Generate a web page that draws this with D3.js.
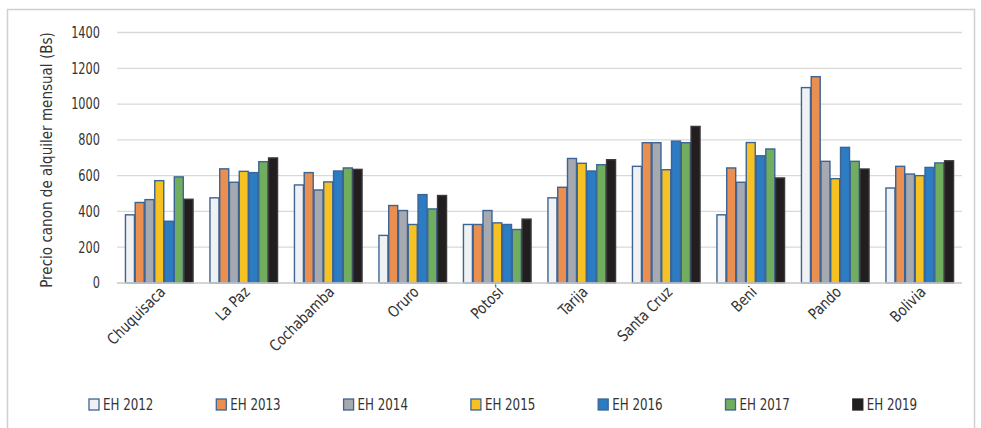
<!DOCTYPE html>
<meta charset="utf-8">
<script src="https://cdn.jsdelivr.net/npm/d3@7"></script>
<style type="text/css">
    body { margin: 0; background: #fff; }
    text { font-family: "DejaVu Sans Condensed", "DejaVu Sans", sans-serif; font-stretch: condensed; fill: #222; }
    .grid line { stroke: #d9d9d9; stroke-width: 1.3; }
    .axis path, .axis line { stroke: none; }
</style>
<body>
<script>
    var regions = ["Chuquisaca", "La Paz", "Cochabamba", "Oruro", "Potosí",
        "Tarija", "Santa Cruz", "Beni", "Pando", "Bolivia"];
    var years = ["EH 2012", "EH 2013", "EH 2014", "EH 2015", "EH 2016", "EH 2017", "EH 2019"];
    var eh2012 = [381, 476, 548, 266, 327, 476, 652, 381, 1092, 531];
    var eh2013 = [450, 638, 617, 433, 327, 535, 784, 643, 1153, 652];
    var eh2014 = [466, 563, 520, 405, 405, 696, 784, 563, 680, 609];
    var eh2015 = [572, 624, 565, 327, 336, 669, 633, 785, 583, 600];
    var eh2016 = [345, 617, 626, 494, 327, 626, 793, 711, 758, 646];
    var eh2017 = [593, 678, 643, 414, 299, 661, 784, 749, 680, 671];
    var eh2019 = [468, 699, 635, 489, 357, 689, 875, 587, 637, 683];
    var yTicks = [0, 200, 400, 600, 800, 1000, 1200, 1400];
    var colors = ["#f0f1f3", "#ea8f50", "#a6a9b0", "#f6c223", "#2c7cc3", "#71ad5f", "#221e1f"];

    var series = [eh2012, eh2013, eh2014, eh2015, eh2016, eh2017, eh2019];

    var width = 981, height = 428;
    var plot = {left: 117, right: 962, top: 32.5, bottom: 283};

    var svg = d3.select("body").append("svg")
        .attr("width", width)
        .attr("height", height);

    // chart frame
    svg.append("rect")
        .attr("x", 7.5).attr("y", 9.5)
        .attr("width", 967).attr("height", 430)
        .style("fill", "none").style("stroke", "#d0d0d0").style("stroke-width", 1.5);

    var x0 = d3.scaleBand().domain(regions).range([plot.left, plot.right])
        .paddingInner(0.2).paddingOuter(0.1);
    var x1 = d3.scaleBand().domain(years).range([0, x0.bandwidth()]).paddingInner(0.08);
    var y = d3.scaleLinear().domain([0, 1400]).range([plot.bottom, plot.top]);

    // gridlines
    svg.append("g")
        .attr("class", "grid")
        .selectAll("line")
        .data(yTicks)
        .enter()
        .append("line")
        .attr("x1", plot.left).attr("x2", plot.right)
        .attr("y1", function(d){ return y(d); })
        .attr("y2", function(d){ return y(d); });

    // y axis (text squeezed a bit to look condensed)
    var yAxis = svg.append("g")
        .attr("class", "axis")
        .attr("transform", "translate(" + (plot.left - 17) + ",0)")
        .call(d3.axisLeft(y).tickValues(yTicks).tickFormat(d3.format("d")).tickSize(0).tickPadding(0));
    yAxis.selectAll("text")
        .style("font-size", "15px").style("fill", "#333")
        .attr("transform", "scale(0.84,1)");

    // bars
    years.forEach(function(yr, j){
        svg.append("g").selectAll("rect")
            .data(series[j])
            .enter()
            .append("rect")
            .attr("x", function(d, i){ return x0(regions[i]) + x1(yr); })
            .attr("y", function(d){ return y(d); })
            .attr("width", x1.bandwidth())
            .attr("height", function(d){ return y(0) - y(d); })
            .style("fill", colors[j])
            .style("stroke", j === 6 ? "#3a3a3a" : "#3c6494")
            .style("stroke-width", 1.4);
    });

    // x axis
    var xAxis = svg.append("g")
        .attr("class", "axis")
        .attr("transform", "translate(0," + plot.bottom + ")")
        .call(d3.axisBottom(x0).tickSize(0).tickPadding(0));
    xAxis.selectAll("text")
        .style("font-size", "15.5px")
        .style("fill", "#333")
        .attr("text-anchor", "end")
        .attr("dy", null)
        .attr("transform", "translate(7,10) rotate(-45) scale(0.92,1)");

    svg.append("line")
        .attr("x1", plot.left).attr("x2", plot.right)
        .attr("y1", plot.bottom).attr("y2", plot.bottom)
        .style("stroke", "#d0d0d0").style("stroke-width", 1.5);

    // y title
    svg.append("text")
        .attr("transform", "translate(52,160) rotate(-90) scale(0.94,1)")
        .attr("text-anchor", "middle")
        .style("font-size", "16px")
        .style("fill", "#333")
        .text("Precio canon de alquiler mensual (Bs)");

    // legend
    var legend = svg.append("g").selectAll("g")
        .data(years)
        .enter()
        .append("g")
        .attr("transform", function(d, i){ return "translate(" + (89 + i * 127.3) + ",399)"; });
    legend.append("rect")
        .attr("width", 10).attr("height", 11)
        .style("fill", function(d, i){ return colors[i]; })
        .style("stroke", function(d, i){ return i === 6 ? "#222" : "#3c6494"; })
        .style("stroke-width", 1.3);
    legend.append("text")
        .attr("transform", "translate(14,11) scale(0.88,1)")
        .style("font-size", "15px")
        .style("fill", "#333")
        .text(function(d){ return d; });
</script>
</body>
